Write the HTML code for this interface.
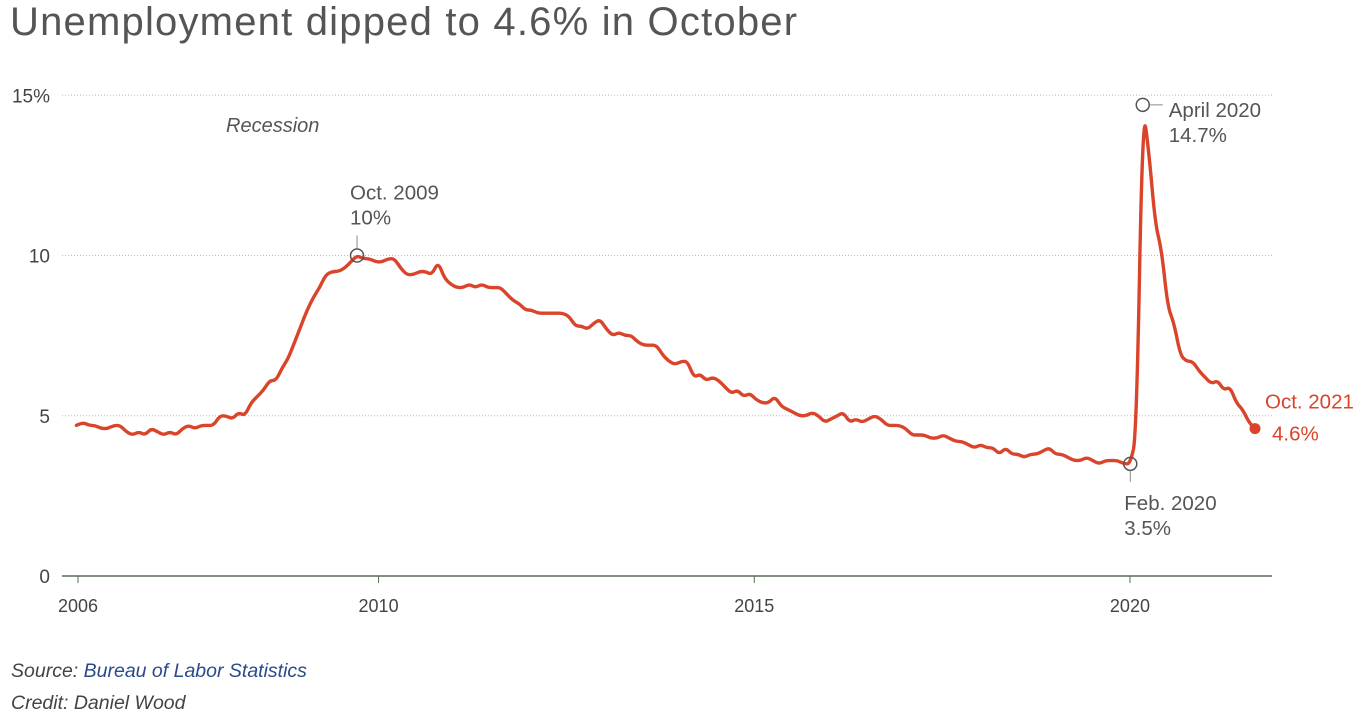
<!DOCTYPE html>
<html><head><meta charset="utf-8"><style>
body{margin:0;background:#fff;width:1368px;height:723px;overflow:hidden;font-family:"Liberation Sans",sans-serif}
#title{position:absolute;left:10px;top:0px;font-size:40px;color:#555;letter-spacing:1.2px;white-space:nowrap}
.foot{position:absolute;left:11px;font-size:19.5px;font-style:italic;color:#444}
.foot a{color:#2a4a8a;text-decoration:none}
</style></head><body>
<div id="title">Unemployment dipped to 4.6% in October</div>
<svg id="chart" width="1368" height="723" style="position:absolute;left:0;top:0"></svg>
<div class="foot" style="top:660px">Source: <a>Bureau of Labor Statistics</a></div>
<div class="foot" style="top:692px">Credit: Daniel Wood</div>
<script>
const startYear = 2006;
const rates = [
4.7,4.8,4.7,4.7,4.6,4.6,4.7,4.7,4.5,4.4,4.5,4.4,
4.6,4.5,4.4,4.5,4.4,4.6,4.7,4.6,4.7,4.7,4.7,5.0,
5.0,4.9,5.1,5.0,5.4,5.6,5.8,6.1,6.1,6.5,6.8,7.3,
7.8,8.3,8.7,9.0,9.4,9.5,9.5,9.6,9.8,10.0,9.9,9.9,
9.8,9.8,9.9,9.9,9.6,9.4,9.4,9.5,9.5,9.4,9.8,9.3,
9.1,9.0,9.0,9.1,9.0,9.1,9.0,9.0,9.0,8.8,8.6,8.5,
8.3,8.3,8.2,8.2,8.2,8.2,8.2,8.1,7.8,7.8,7.7,7.9,
8.0,7.7,7.5,7.6,7.5,7.5,7.3,7.2,7.2,7.2,6.9,6.7,
6.6,6.7,6.7,6.2,6.3,6.1,6.2,6.1,5.9,5.7,5.8,5.6,
5.7,5.5,5.4,5.4,5.6,5.3,5.2,5.1,5.0,5.0,5.1,5.0,
4.8,4.9,5.0,5.1,4.8,4.9,4.8,4.9,5.0,4.9,4.7,4.7,
4.7,4.6,4.4,4.4,4.4,4.3,4.3,4.4,4.3,4.2,4.2,4.1,
4.0,4.1,4.0,4.0,3.8,4.0,3.8,3.8,3.7,3.8,3.8,3.9,
4.0,3.8,3.8,3.7,3.6,3.6,3.7,3.6,3.5,3.6,3.6,3.6,
3.5,3.5,4.4,14.7,13.2,11.0,10.2,8.4,7.9,6.9,6.7,6.7,
6.4,6.2,6.0,6.1,5.8,5.9,5.4,5.2,4.8,4.6];
const yTicks = [0,5,10,15];
const yTickLabels = ["0","5","10","15%"];
const xTicks = [2006,2010,2015,2020];
const annotations = [
  {i:45, label:"Oct. 2009", value:"10%"},
  {i:169, label:"Feb. 2020", value:"3.5%"},
  {i:171, label:"April 2020", value:"14.7%"}
];
const NS="http://www.w3.org/2000/svg";
const svg=document.getElementById('chart');
const X=y=>78+(y-startYear)*75.14;
const Xi=i=>76.4+i*6.236;
const Y=v=>576-v*32.05;
function el(t,a,p){const e=document.createElementNS(NS,t);for(const k in a)e.setAttribute(k,a[k]);(p||svg).appendChild(e);return e;}
yTicks.forEach((t,k)=>{
  if(t>0){const g=el('line',{x1:62,x2:1272,y1:Y(t),y2:Y(t),stroke:'#bbb','stroke-dasharray':'1,2'});
  
  }
  const tx=el('text',{x:50,y:Y(t)+7,'text-anchor':'end','font-size':19,fill:'#444'});
  tx.textContent=yTickLabels[k];
  
  
});
const ax=el('line',{x1:62,x2:1272,y1:576,y2:576,stroke:'#5a6a5a','stroke-width':1.5});


xTicks.forEach(t=>{
  el('line',{x1:X(t),x2:X(t),y1:576,y2:583,stroke:'#5a6a5a'});
  const tx=el('text',{x:X(t),y:612,'text-anchor':'middle','font-size':18,fill:'#444'});
  tx.textContent=t;
  
  
});
const rl=el('text',{x:226,y:132,'font-size':20,'font-style':'italic',fill:'#555'});
rl.textContent='Recession';


const pts=rates.map((v,i)=>[Xi(i),Y(v)]);
let d='M'+pts[0][0].toFixed(1)+','+pts[0][1].toFixed(1);
for(let i=1;i<pts.length-1;i++){
  const mx=(pts[i][0]+pts[i+1][0])/2,my=(pts[i][1]+pts[i+1][1])/2;
  d+='Q'+pts[i][0].toFixed(1)+','+pts[i][1].toFixed(1)+' '+mx.toFixed(1)+','+my.toFixed(1);
}
d+='L'+pts[pts.length-1][0].toFixed(1)+','+pts[pts.length-1][1].toFixed(1);
const line=el('path',{d:d,fill:'none',stroke:'#d9442a','stroke-width':3.4,'stroke-linejoin':'round','stroke-linecap':'round'});


annotations.forEach((a,k)=>{
  const cx=Xi(a.i),cy=Y(rates[a.i]);
  const c=el('circle',{cx:cx,cy:cy,r:6.5,fill:'none',stroke:'#555','stroke-width':1.5});
  
  
  let tx,ty;
  if(k===0){el('line',{x1:cx,x2:cx,y1:cy-7,y2:cy-20,stroke:'#888'});tx=cx-7;ty=cy-56;}
  else if(k===1){el('line',{x1:cx,x2:cx,y1:cy+7,y2:cy+18,stroke:'#888'});tx=cx-6;ty=cy+46;}
  else{el('line',{x1:cx+7,x2:cx+20,y1:cy,y2:cy,stroke:'#888'});tx=cx+26;ty=cy+12;}
  const t1=el('text',{x:tx,y:ty,'font-size':20.5,fill:'#555'});t1.textContent=a.label;
  
  
  const t2=el('text',{x:tx,y:ty+25,'font-size':20.5,fill:'#555'});t2.textContent=a.value;
  
  
});
const li=rates.length-1,lx=Xi(li),ly=Y(rates[li]);
const ld=el('circle',{cx:lx,cy:ly,r:5.5,fill:'#d9442a'});


const l1=el('text',{x:lx+10,y:ly-20,'font-size':20.5,fill:'#d9442a'});l1.textContent='Oct. 2021';


const l2=el('text',{x:lx+17,y:ly+12,'font-size':20.5,fill:'#d9442a'});l2.textContent=rates[li]+'%';


</script>
</body></html>
